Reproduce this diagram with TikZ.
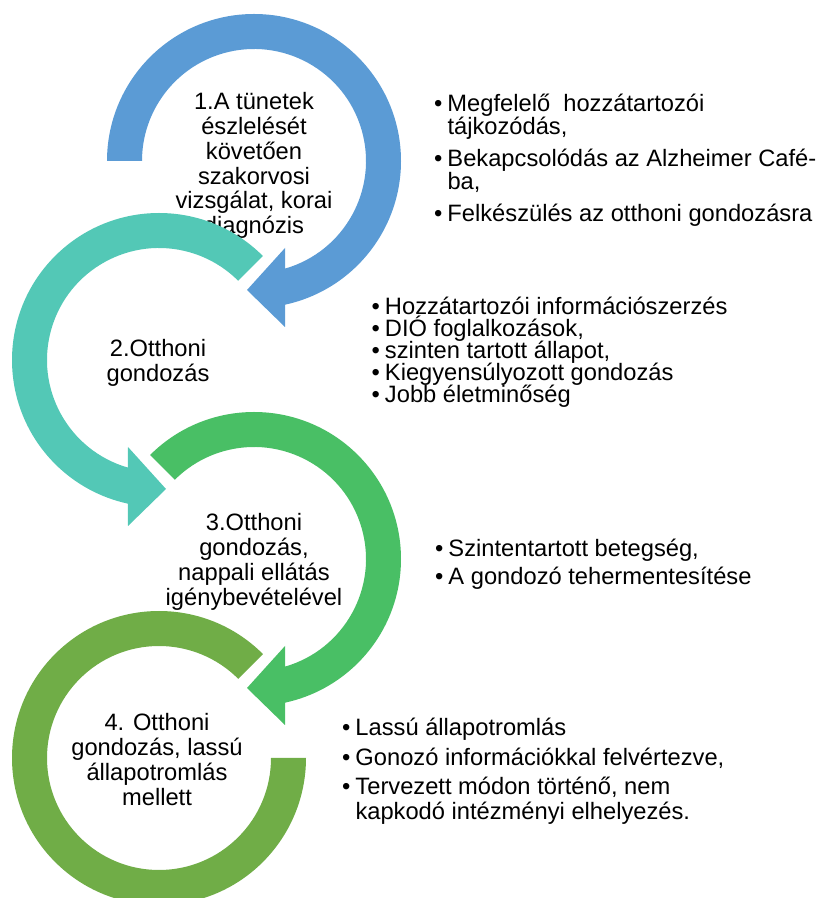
\documentclass[tikz,border=0pt]{standalone}
\usepackage{fontspec}
\setmainfont{Liberation Sans}
\usetikzlibrary{calc}

\definecolor{ringblue}{HTML}{5B9BD5}
\definecolor{ringteal}{HTML}{53C8B6}
\definecolor{ringgreen}{HTML}{49BF65}
\definecolor{ringolive}{HTML}{70AD47}

\tikzset{
  ringtext/.style={anchor=base, inner sep=0pt,
    font=\fontsize{23.7}{24.5}\selectfont},
  bullets/.style={anchor=base west, inner sep=0pt,
    font=\fontsize{23.7}{#1}\selectfont},
}
% one list line: bullet, or only the hanging indent
\newcommand{\itm}[1]{\textbullet & \smash{#1}}
\newcommand{\cnt}[1]{& \smash{#1}}

\begin{document}
\begin{tikzpicture}[x=1pt, y=1pt]
  \clip (0,0) rectangle (822,898);
  \coordinate (c1) at (254,737);
  \coordinate (c2) at (159,538);
  \coordinate (c3) at (254,339);
  \coordinate (c4) at (159,140);

  % 1. ring, clockwise
  \fill[ringblue] ($(c1)+(180:147)$) arc[start angle=180, end angle=-77.8, radius=147]
    -- ($(c1)+(31,-166)$) -- ($(c1)+(-7,-129)$) -- ($(c1)+(31,-87)$)
    -- ($(c1)+(-73.9:112)$) arc[start angle=-73.9, end angle=180, radius=112] -- cycle;
  \node[ringtext] (t1) at (254,788) {\begin{tabular}[t]{@{}c@{}}1.A tünetek\\
    észlelését\\ követően\\ szakorvosi\\ vizsgálat, korai\\ diagnózis\end{tabular}};

  % 2. ring, counterclockwise
  \fill[ringteal] ($(c2)+(45:147)$) arc[start angle=45, end angle=257.8, radius=147]
    -- ($(c2)+(-31,-166)$) -- ($(c2)+(7,-129)$) -- ($(c2)+(-31,-87)$)
    -- ($(c2)+(253.9:112)$) arc[start angle=253.9, end angle=45, radius=112] -- cycle;
  \node[ringtext] (t2) at (158,541) {\begin{tabular}[t]{@{}c@{}}2.Otthoni\\
    gondozás\end{tabular}};

  % 3. ring, clockwise
  \fill[ringgreen] ($(c3)+(135:147)$) arc[start angle=135, end angle=-77.8, radius=147]
    -- ($(c3)+(31,-166)$) -- ($(c3)+(-7,-129)$) -- ($(c3)+(31,-87)$)
    -- ($(c3)+(-73.9:112)$) arc[start angle=-73.9, end angle=135, radius=112] -- cycle;
  \node[ringtext] (t3) at (254,367) {\begin{tabular}[t]{@{}c@{}}3.Otthoni\\
    gondozás,\\ nappali ellátás\\ igénybevételével\end{tabular}};

  % 4. ring, open at the right
  \fill[ringolive] ($(c4)+(45:147)$) arc[start angle=45, end angle=360, radius=147]
    -- ($(c4)+(0:112)$) arc[start angle=360, end angle=45, radius=112] -- cycle;
  \node[ringtext] (t4) at (157,167) {\begin{tabular}[t]{@{}c@{}}4. Otthoni\\
    gondozás, lassú\\ állapotromlás\\ mellett\end{tabular}};

  % bullet lists
  \node[bullets=23] (b1) at (434,786) {\begin{tabular}[t]{@{}l@{\hspace{5pt}}l@{}}
    \itm{Megfelelő\ \ hozzátartozói}\\
    \cnt{tájkozódás,}\\[9pt]
    \itm{Bekapcsolódás az Alzheimer Café-}\\
    \cnt{ba,}\\[9pt]
    \itm{Felkészülés az otthoni gondozásra}\end{tabular}};
  \node[bullets=22] (b2) at (371.5,583) {\begin{tabular}[t]{@{}l@{\hspace{5pt}}l@{}}
    \itm{Hozzátartozói információszerzés}\\
    \itm{DIÓ foglalkozások,}\\
    \itm{szinten tartott állapot,}\\
    \itm{Kiegyensúlyozott gondozás}\\
    \itm{Jobb életminőség}\end{tabular}};
  \node[bullets=28] (b3) at (435,341) {\begin{tabular}[t]{@{}l@{\hspace{5pt}}l@{}}
    \itm{Szintentartott betegség,}\\
    \itm{A gondozó tehermentesítése}\end{tabular}};
  \node[bullets=25] (b4) at (342,162) {\begin{tabular}[t]{@{}l@{\hspace{5pt}}l@{}}
    \itm{Lassú állapotromlás}\\[5pt]
    \itm{Gonozó információkkal felvértezve,}\\[4pt]
    \itm{Tervezett módon történő, nem}\\
    \cnt{kapkodó intézményi elhelyezés.}\end{tabular}};
\end{tikzpicture}
\end{document}
